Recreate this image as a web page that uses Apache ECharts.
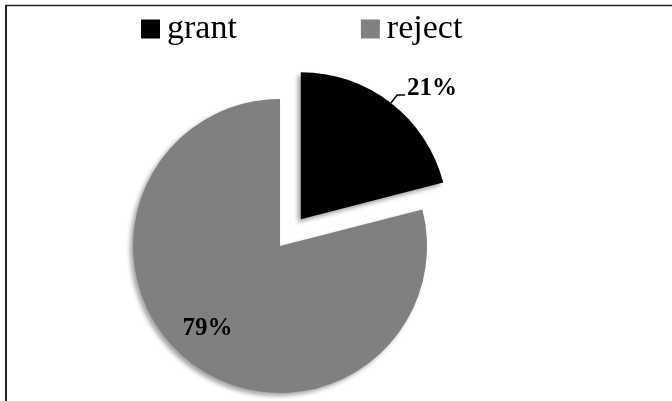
<!DOCTYPE html>
<html>
<head>
<meta charset="utf-8">
<script src="https://cdn.jsdelivr.net/npm/echarts@6/dist/echarts.min.js"></script>
<style>
  html, body { margin: 0; padding: 0; background: #fff; }
  #chart { width: 672px; height: 401px; }
</style>
</head>
<body>
<div id="chart"></div>
<script>
// Decision outcomes
const categories = ['grant', 'reject'];
const shares = [21, 79];
const colors = ['#000000', '#808080'];

const serif = '"Liberation Serif", "DejaVu Serif", serif';
const center = [280, 246];
const radius = 147;

const chart = echarts.init(document.getElementById('chart'));

const slices = categories.map((name, i) => ({
  name,
  value: shares[i],
  selected: i === 0,
  itemStyle: { color: colors[i] }
}));

const valueStyle = { fontFamily: serif, fontWeight: 'bold', fontSize: 25, color: '#000', lineHeight: 26 };

chart.setOption({
  animation: false,
  backgroundColor: '#fff',
  legend: {
    data: categories,
    left: 136,
    top: 7,
    icon: 'rect',
    itemWidth: 19,
    itemHeight: 19,
    itemGap: 124,
    selectedMode: false,
    textStyle: { fontFamily: serif, fontSize: 34, color: '#000', padding: [0, 0, 0, 2] }
  },
  graphic: [
    { type: 'line', shape: { x1: 5, y1: 5.5, x2: 672, y2: 5.5 }, style: { stroke: '#222', lineWidth: 1.5 } },
    { type: 'line', shape: { x1: 6, y1: 5, x2: 6, y2: 401 }, style: { stroke: '#222', lineWidth: 2 } }
  ],
  series: [
    {
      type: 'pie',
      center,
      radius: [0, radius],
      startAngle: 90,
      clockwise: true,
      selectedMode: 'single',
      selectedOffset: 34,
      silent: true,
      data: slices.map((d, i) => ({
        ...d,
        itemStyle: {
          ...d.itemStyle,
          shadowBlur: 4,
          shadowColor: 'rgba(0,0,0,0.35)',
          shadowOffsetX: -3,
          shadowOffsetY: 3
        },
        label: { show: i === 0 },
        labelLine: { show: i === 0 }
      })),
      label: {
        position: 'outside',
        // the empty second line lifts the value above the end of its leader line
        formatter: p => '{v|' + p.value + '%}\n{e|}',
        rich: { v: valueStyle, e: { height: 14, lineHeight: 14 } },
        distanceToLabelLine: 2
      },
      labelLine: {
        length: 10,
        length2: 8,
        lineStyle: { color: '#000', width: 1.5 }
      }
    },
    {
      // transparent ring carrying the inner label at ~73% of the radius
      type: 'pie',
      center,
      radius: [radius * 0.46, radius],
      startAngle: 90,
      clockwise: true,
      silent: true,
      data: slices.map((d, i) => ({
        name: d.name,
        value: d.value,
        itemStyle: { color: 'rgba(0,0,0,0)' },
        label: { show: i === 1 }
      })),
      label: {
        position: 'inside',
        formatter: p => '{v|' + p.value + '%}{s|}\n{e|}',
        rich: { v: valueStyle, s: { width: 10 }, e: { height: 10, lineHeight: 10 } }
      },
      labelLine: { show: false }
    }
  ]
});
</script>
</body>
</html>
